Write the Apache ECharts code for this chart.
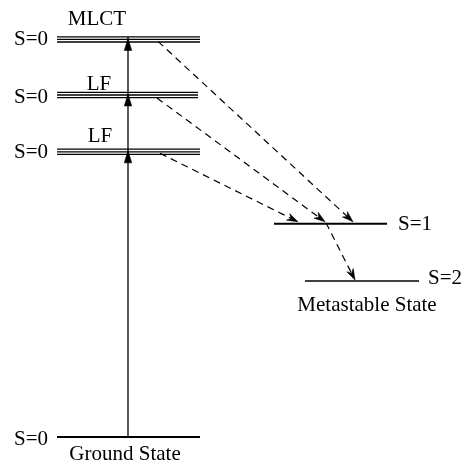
<!DOCTYPE html>
<html>
<head>
<meta charset="utf-8">
<script src="https://cdn.jsdelivr.net/npm/echarts@6/dist/echarts.min.js"></script>
<style>
  html, body { margin: 0; padding: 0; background: #fff; }
  #chart { width: 461px; height: 464px; }
</style>
</head>
<body>
<div id="chart"></div>
<script>
// Energy levels (arbitrary units, ground state = 0)
const levelKeys   = ['ground', 'lf1', 'lf2', 'mlct', 'triplet', 'quintet'];
const levelEnergy = [0, 7.13, 8.55, 9.94, 5.33, 3.90];
const spinLabels  = ['S=0', 'S=0', 'S=0', 'S=0', 'S=1', 'S=2'];
const stateLabels = ['Ground State', 'LF', 'LF', 'MLCT', '', 'Metastable State'];
const lineCount   = [1, 3, 3, 3, 1, 1];

// Absorption from the ground state into the excited singlets
const absorbTo = [1, 2, 3];
// Non-radiative relaxation (dashed arrows)
const decayFrom = [3, 2, 1, 4];
const decayTo   = [4, 4, 4, 5];

// Drawing layout (x in horizontal axis units, offsets in pixels)
const layout = {
  span:      [[57, 200], [57, 200], [57, 198], [57, 200], [274, 387], [305, 419]],
  lineWidth: [2, 1.3, 1.3, 1.3, 2, 1.6],
  spinSide:  ['left', 'left', 'left', 'left', 'right', 'right'],
  spinGap:   [9, 9, 9, 9, 11, 9],
  spinDy:    [2, 1, 2, 0, 1, -3],
  stateX:    [125, 100, 99, 97, 0, 367],
  stateDy:   [17.5, -15.7, -11, -20.3, 0, 24],
  absorbX:   128,
  decayStartX: [158, 157, 160, 326],
  decayEndX:   [353, 325, 298, 355],
  decayStartDy: [2, 3, 1.5, -1],
  decayEndDy:   [-2, -2, -2, -1]
};

const FONT_FAMILY = 'Liberation Serif';
const FONT_SIZE = 21;
const LINE_GAP = 2.6;

function text(str, x, y, align) {
  return {
    type: 'text',
    style: {
      text: str, x: x, y: y,
      fontFamily: FONT_FAMILY, fontSize: FONT_SIZE, fontWeight: 'normal',
      fill: '#000', align: align, verticalAlign: 'middle'
    }
  };
}

function renderLevel(params, api) {
  const i = api.value(0);
  const E = api.value(1);
  const span = layout.span[i];
  const p1 = api.coord([span[0], E]);
  const p2 = api.coord([span[1], E]);
  const n = lineCount[i];
  const children = [];
  for (let k = 0; k < n; k++) {
    const dy = (k - (n - 1) / 2) * LINE_GAP;
    children.push({
      type: 'line',
      shape: { x1: p1[0], y1: p1[1] + dy, x2: p2[0], y2: p2[1] + dy },
      style: { stroke: '#000', lineWidth: layout.lineWidth[i] }
    });
  }
  if (layout.spinSide[i] === 'left') {
    children.push(text(spinLabels[i], p1[0] - layout.spinGap[i], p1[1] + layout.spinDy[i], 'right'));
  } else {
    children.push(text(spinLabels[i], p2[0] + layout.spinGap[i], p2[1] + layout.spinDy[i], 'left'));
  }
  if (stateLabels[i]) {
    const c = api.coord([layout.stateX[i], E]);
    children.push(text(stateLabels[i], c[0], c[1] + layout.stateDy[i], 'center'));
  }
  return { type: 'group', children: children };
}

function arrowHead(tip, from, len, half, notch) {
  const dx = tip[0] - from[0], dy = tip[1] - from[1];
  const d = Math.hypot(dx, dy);
  const ux = dx / d, uy = dy / d;
  const bx = tip[0] - ux * len, by = tip[1] - uy * len;
  const pts = [
    tip,
    [bx - uy * half, by + ux * half],
    [tip[0] - ux * len * (1 - notch), tip[1] - uy * len * (1 - notch)],
    [bx + uy * half, by - ux * half]
  ];
  return {
    type: 'polygon',
    shape: { points: pts },
    style: { fill: '#000', stroke: '#000', lineWidth: 0.6 }
  };
}

// Absorption arrow: one vertical stroke with a head at every excited singlet
function renderAbsorption(params, api) {
  const top = Math.max.apply(null, absorbTo.map(j => levelEnergy[j]));
  const base = api.coord([layout.absorbX, levelEnergy[0]]);
  const peak = api.coord([layout.absorbX, top]);
  const children = [{
    type: 'line',
    shape: { x1: base[0], y1: base[1], x2: peak[0], y2: peak[1] - LINE_GAP },
    style: { stroke: '#000', lineWidth: 1.3 }
  }];
  absorbTo.forEach(j => {
    const p = api.coord([layout.absorbX, levelEnergy[j]]);
    const tip = [p[0], p[1] - 1];
    children.push(arrowHead(tip, [tip[0], tip[1] + 20], 12, 3.7, 0));
  });
  return { type: 'group', children: children };
}

function renderDecay(params, api) {
  const t = api.value(0);
  const a = api.coord([layout.decayStartX[t], levelEnergy[decayFrom[t]]]);
  const b = api.coord([layout.decayEndX[t], levelEnergy[decayTo[t]]]);
  const start = [a[0], a[1] + layout.decayStartDy[t]];
  const tip = [b[0], b[1] + layout.decayEndDy[t]];
  const d = Math.hypot(tip[0] - start[0], tip[1] - start[1]);
  const ux = (tip[0] - start[0]) / d, uy = (tip[1] - start[1]) / d;
  const end = [tip[0] - ux * 8, tip[1] - uy * 8];
  return {
    type: 'group',
    children: [
      {
        type: 'line',
        shape: { x1: start[0], y1: start[1], x2: end[0], y2: end[1] },
        style: { stroke: '#000', lineWidth: 1.2, lineDash: [7, 5] }
      },
      arrowHead(tip, start, 11, 3.6, 0.3)
    ]
  };
}

const chart = echarts.init(document.getElementById('chart'), null, { renderer: 'canvas' });
chart.setOption({
  animation: false,
  backgroundColor: '#fff',
  grid: { left: 0, right: 0, top: 0, bottom: 0 },
  xAxis: { type: 'value', min: 0, max: 461, show: false },
  yAxis: { type: 'value', min: -0.675, max: 10.925, show: false },
  series: [
    {
      type: 'custom',
      name: 'levels',
      clip: false,
      renderItem: renderLevel,
      data: levelKeys.map((k, i) => [i, levelEnergy[i]])
    },
    {
      type: 'custom',
      name: 'absorption',
      clip: false,
      renderItem: renderAbsorption,
      data: [[0, 0]]
    },
    {
      type: 'custom',
      name: 'relaxation',
      clip: false,
      renderItem: renderDecay,
      data: decayFrom.map((f, t) => [t, levelEnergy[f]])
    }
  ]
});
</script>
</body>
</html>
